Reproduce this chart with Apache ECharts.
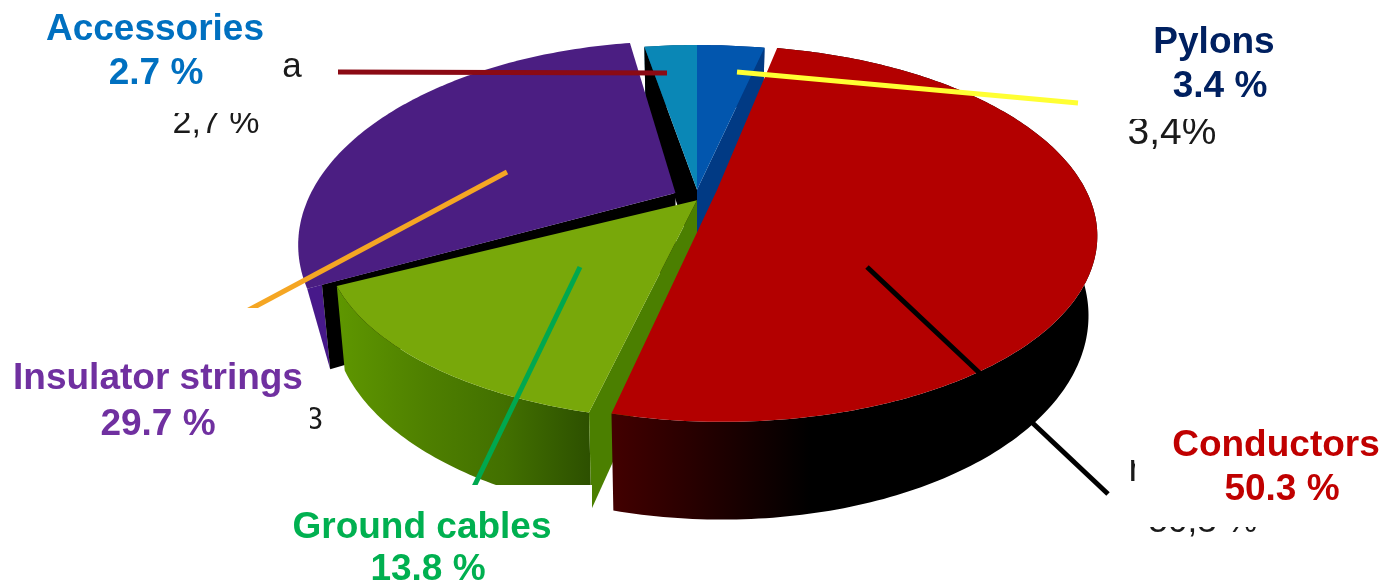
<!DOCTYPE html>
<html>
<head>
<meta charset="utf-8">
<style>html,body{margin:0;padding:0;background:#fff}#c{width:1385px;height:585px}</style>
<script src="https://cdn.jsdelivr.net/npm/echarts@6/dist/echarts.min.js"></script>
</head>
<body>
<div id="c"></div>
<script>
// ---- data ----
const categories = ['Pylons', 'Conductors', 'Ground cables', 'Insulator strings', 'Accessories'];
const values = [3.4, 50.3, 13.8, 29.7, 2.7];
const valueLabels = ['3.4 %', '50.3 %', '13.8 %', '29.7 %', '2.7 %'];

// ---- appearance ----
const drawOrder = [4, 0, 3, 2, 1];
const view = {cx: 697, cy: 188, a: 389, b: 181, p: 0.235, h: 75, depthScale: 0.978};
const sliceGeom = [
  {ou: 0, ov: -0.01, ru: 1.0, rv: 0.98, cutStart: false, cutEnd: true, frac: 1},
  {ou: 0.051, ov: -0.012, ru: 0.946, rv: 0.979, cutStart: false, cutEnd: false, frac: 1},
  {ou: 0, ov: -0.066, ru: 0.92, rv: 0.92, cutStart: true, cutEnd: false, frac: 1},
  {ou: -0.055, ov: -0.028, ru: 0.931, rv: 1.03, cutStart: true, cutEnd: false, frac: 0.96},
  {ou: 0, ov: -0.01, ru: 0.98, rv: 0.98, cutStart: true, cutEnd: false, frac: 1}
];
const grad = (x, x2, stops) => ({type: 'linear', x: x, y: 0, x2: x2, y2: 0, global: true,
  colorStops: stops.map(s => ({offset: s[0], color: s[1]}))});
const sliceStyle = [
  {top: '#0256ae', wall: '#00307a', cut: '#013a84'},
  {top: '#b30000', wall: grad(613, 810, [[0, '#420000'], [0.4, '#280000'], [1, '#000000']]), cut: '#000000'},
  {top: '#78a80a', wall: grad(340, 593, [[0, '#5e9600'], [0.35, '#4e7f00'], [0.65, '#427000'], [1, '#2c4f00']]), cut: '#4b7f00'},
  {top: '#4b1e82', wall: '#47198a', cut: '#000000'},
  {top: '#0a87b6', wall: '#05506e', cut: '#000000'}
];
const labelFont = {fontFamily: '"Liberation Sans", Arial, sans-serif', fontWeight: 'bold', fontSize: 37};
const labelStyle = [
  {color: '#002060', name: [1214, 43], val: [1220, 87]},
  {color: '#c00000', name: [1276, 446], val: [1282, 490]},
  {color: '#00b050', name: [422, 528], val: [428, 570]},
  {color: '#7030a0', name: [158, 379], val: [158, 425]},
  {color: '#0070c0', name: [155, 30], val: [156, 74]}
];
const leaders = [
  {from: [737, 72], to: [1078, 103], color: '#ffff33', w: 5},
  {from: [338, 72], to: [667, 73], color: '#8b0a14', w: 5},
  {from: [507, 172], to: [245, 312], color: '#f5a623', w: 5},
  {from: [580, 267], to: [470, 495], color: '#00a84f', w: 5},
  {from: [867, 267], to: [1108, 494], color: '#000000', w: 5}
];
const masks = [
  [0, 308, 310, 170], [280, 485, 312, 100],
  [1135, 440, 250, 87], [150, 95, 120, 18], [1100, 105, 200, 14], [296, 400, 13, 40]
];
const ghostTexts = [
  {t: 'a', x: 292, y: 67, size: 35},
  {t: '2,7 %', x: 216, y: 124, size: 34},
  {t: '3,4%', x: 1172, y: 133, size: 39},
  {t: '3', x: 314, y: 420, size: 31},
  {t: 'n', x: 1139, y: 471, size: 38},
  {t: '50,3 %', x: 1203, y: 522, size: 35}
];

// ---- projection ----
const total = values.reduce((s, v) => s + v, 0);
const startAngles = [];
values.reduce((acc, v, i) => { startAngles[i] = acc; return acc + v; }, 0);
function proj(U, V, depth) {
  const w = 1 + view.p * V;
  let x = view.a * U / w, y = -view.b * V / w;
  if (depth) { x *= view.depthScale; y += view.h / w; }
  return [view.cx + x, view.cy + y];
}
function rimUV(i, th) {
  const g = sliceGeom[i];
  return [g.ou + g.ru * Math.sin(th), g.ov + g.rv * Math.cos(th)];
}
function renderSlice(params, api) {
  const i = api.value(0), val = api.value(1);
  const t0 = startAngles[i] / total * 2 * Math.PI;
  const t1 = t0 + val / total * 2 * Math.PI;
  const g = sliceGeom[i], st = sliceStyle[i];
  const n = Math.max(6, Math.ceil(val * 4));
  const top = [], bot = [];
  for (let k = 0; k <= n; k++) {
    const th = t0 + (t1 - t0) * k / n, uv = rimUV(i, th);
    top.push(proj(uv[0], uv[1], false));
    bot.push(proj(uv[0], uv[1], true));
  }
  const apex = proj(g.ou, g.ov, false), apexD = proj(g.ou, g.ov, true);
  const along = (from, to, f) => [from[0] + (to[0] - from[0]) * f, from[1] + (to[1] - from[1]) * f];
  const poly = (pts, fill) => ({type: 'polygon', shape: {points: pts}, style: {fill: fill, stroke: null}});
  const startTop = along(apex, top[0], g.frac);
  const startBot = along(apexD, bot[0], g.frac);
  const wall = g.frac < 1 ? [top[0], startTop, startBot]
                          : top.concat(bot.slice().reverse());
  const children = [poly(wall, st.wall)];
  if (g.cutStart) children.push(poly([apex, startTop, startBot, apexD], st.cut));
  if (g.cutEnd) children.push(poly([apex, top[n], bot[n], apexD], st.cut));
  children.push(poly([apex].concat(top), st.top));
  return {type: 'group', children: children};
}

// ---- overlays ----
const graphics = [];
leaders.forEach(l => graphics.push({type: 'line', z: 20,
  shape: {x1: l.from[0], y1: l.from[1], x2: l.to[0], y2: l.to[1]},
  style: {stroke: l.color, lineWidth: l.w}}));
ghostTexts.forEach(g => graphics.push({type: 'text', z: 21, x: g.x, y: g.y,
  style: {text: g.t, fill: '#1a1a1a', font: g.size + 'px "Liberation Sans", Arial, sans-serif',
    textAlign: 'center', textVerticalAlign: 'middle'}}));
masks.forEach(m => graphics.push({type: 'rect', z: 22,
  shape: {x: m[0], y: m[1], width: m[2], height: m[3]}, style: {fill: '#ffffff'}}));
categories.forEach((c, i) => {
  const s = labelStyle[i];
  const font = labelFont.fontWeight + ' ' + labelFont.fontSize + 'px ' + labelFont.fontFamily;
  graphics.push({type: 'text', z: 30, x: s.name[0], y: s.name[1],
    style: {text: c, fill: s.color, font: font, textAlign: 'center', textVerticalAlign: 'middle'}});
  graphics.push({type: 'text', z: 30, x: s.val[0], y: s.val[1],
    style: {text: valueLabels[i], fill: s.color, font: font, textAlign: 'center', textVerticalAlign: 'middle'}});
});

const chart = echarts.init(document.getElementById('c'), null, {renderer: 'canvas'});
chart.setOption({
  animation: false,
  backgroundColor: '#ffffff',
  series: [{
    type: 'custom',
    coordinateSystem: 'none',
    silent: true,
    z: 2,
    clip: false,
    renderItem: renderSlice,
    data: drawOrder.map(i => ({name: categories[i], value: [i, values[i]]}))
  }],
  graphic: {elements: graphics}
});
</script>
</body>
</html>
